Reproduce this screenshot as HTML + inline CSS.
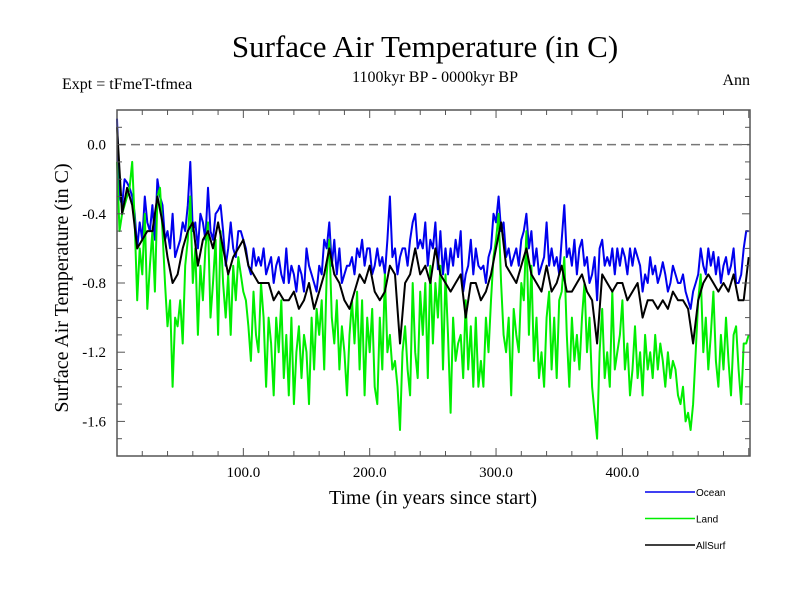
<!DOCTYPE html>
<html><head><meta charset="utf-8"><style>
body{margin:0;background:#fff}
svg text{font-family:"Liberation Serif",serif}
</style></head><body>
<svg id="c" width="800" height="600" viewBox="0 0 800 600" xmlns="http://www.w3.org/2000/svg">
<text x="425" y="57" font-size="31" text-anchor="middle">Surface Air Temperature (in C)</text>
<text x="62" y="89" font-size="16">Expt = tFmeT-tfmea</text>
<text x="435" y="82" font-size="16" text-anchor="middle">1100kyr BP - 0000kyr BP</text>
<text x="750" y="85" font-size="16" text-anchor="end">Ann</text>
<text x="0" y="0" font-size="20" text-anchor="middle" transform="translate(68,288) rotate(-90)">Surface Air Temperature (in C)</text>
<text x="433" y="504" font-size="20" text-anchor="middle">Time (in years since start)</text>
<g id="plot"></g>
<g id="axes"></g>
<g id="legend"></g>
</svg>
<script>
const oceanStep = 2;
const ocean = [0.15,-0.3,-0.35,-0.2,-0.22,-0.25,-0.3,-0.4,-0.6,-0.45,-0.55,-0.3,-0.45,-0.5,-0.35,-0.55,-0.2,-0.3,-0.35,-0.55,-0.5,-0.6,-0.4,-0.65,-0.6,-0.55,-0.45,-0.5,-0.35,-0.1,-0.5,-0.45,-0.6,-0.4,-0.45,-0.55,-0.25,-0.5,-0.55,-0.4,-0.38,-0.35,-0.5,-0.7,-0.6,-0.45,-0.6,-0.65,-0.5,-0.5,-0.55,-0.6,-0.7,-0.75,-0.6,-0.7,-0.65,-0.7,-0.6,-0.75,-0.7,-0.65,-0.8,-0.7,-0.65,-0.75,-0.8,-0.6,-0.8,-0.7,-0.75,-0.85,-0.7,-0.75,-0.85,-0.6,-0.7,-0.75,-0.8,-0.85,-0.7,-0.75,-0.55,-0.6,-0.45,-0.7,-0.55,-0.75,-0.6,-0.8,-0.75,-0.7,-0.7,-0.65,-0.75,-0.6,-0.65,-0.55,-0.7,-0.6,-0.6,-0.75,-0.7,-0.6,-0.7,-0.65,-0.75,-0.55,-0.3,-0.65,-0.6,-0.75,-0.65,-0.6,-0.6,-0.7,-0.55,-0.45,-0.4,-0.6,-0.55,-0.6,-0.45,-0.7,-0.55,-0.6,-0.45,-0.72,-0.5,-0.75,-0.6,-0.75,-0.6,-0.7,-0.55,-0.65,-0.5,-0.85,-0.75,-0.7,-0.55,-0.75,-0.6,-0.7,-0.72,-0.7,-0.8,-0.65,-0.6,-0.4,-0.45,-0.3,-0.5,-0.45,-0.65,-0.6,-0.7,-0.65,-0.6,-0.7,-0.55,-0.5,-0.4,-0.6,-0.5,-0.7,-0.6,-0.75,-0.7,-0.65,-0.45,-0.7,-0.6,-0.7,-0.65,-0.75,-0.55,-0.35,-0.65,-0.6,-0.7,-0.55,-0.75,-0.6,-0.55,-0.7,-0.65,-0.8,-0.75,-0.65,-0.9,-0.6,-0.55,-0.7,-0.65,-0.7,-0.6,-0.75,-0.6,-0.7,-0.6,-0.65,-0.75,-0.6,-0.7,-0.6,-0.65,-0.7,-0.85,-0.75,-0.8,-0.65,-0.75,-0.7,-0.8,-0.75,-0.68,-0.75,-0.85,-0.8,-0.7,-0.75,-0.8,-0.8,-0.75,-0.85,-0.9,-0.95,-0.85,-0.8,-0.75,-0.6,-0.7,-0.75,-0.6,-0.7,-0.62,-0.75,-0.65,-0.8,-0.7,-0.65,-0.75,-0.7,-0.6,-0.8,-0.8,-0.75,-0.6,-0.5,-0.5];
const landStep = 2;
const land = [-0.1,-0.5,-0.4,-0.35,-0.3,-0.25,-0.1,-0.45,-0.9,-0.6,-0.75,-0.4,-0.95,-0.7,-0.5,-0.85,-0.3,-0.25,-0.5,-0.8,-1.05,-0.9,-1.4,-1.0,-1.05,-0.9,-1.15,-0.7,-0.55,-0.3,-0.8,-0.6,-1.1,-0.7,-0.9,-0.6,-0.45,-1.0,-0.8,-0.55,-1.1,-0.5,-0.8,-1.0,-0.75,-1.1,-0.7,-0.9,-0.65,-0.75,-0.85,-0.9,-1.05,-1.25,-0.85,-1.1,-1.2,-0.8,-1.0,-1.4,-1.0,-1.15,-1.45,-1.0,-1.2,-0.9,-1.35,-1.1,-1.45,-1.0,-1.5,-1.2,-1.05,-1.35,-1.1,-1.2,-1.5,-1.0,-1.3,-0.95,-1.1,-0.9,-1.3,-0.75,-0.55,-1.0,-1.15,-0.9,-1.3,-1.05,-1.2,-1.45,-1.1,-0.9,-1.15,-0.85,-1.3,-0.9,-1.45,-1.0,-1.2,-0.95,-1.4,-1.5,-1.0,-1.3,-0.75,-1.2,-1.1,-1.3,-1.25,-1.4,-1.65,-1.2,-1.05,-1.3,-1.45,-0.8,-1.2,-1.35,-0.85,-1.1,-0.8,-1.35,-0.7,-1.15,-0.8,-1.0,-0.7,-1.3,-0.75,-1.1,-1.55,-1.0,-1.25,-1.15,-1.1,-1.35,-0.9,-1.3,-1.05,-1.4,-1.0,-1.4,-1.25,-1.4,-1.0,-1.2,-0.9,-0.65,-0.55,-0.4,-0.8,-1.1,-1.2,-1.0,-1.45,-0.95,-1.1,-1.2,-0.8,-0.9,-0.5,-1.1,-0.7,-1.25,-1.0,-1.35,-1.2,-1.4,-1.0,-0.85,-1.3,-1.0,-1.35,-0.9,-0.85,-0.65,-1.1,-1.4,-1.0,-1.25,-1.1,-1.3,-1.0,-0.8,-1.2,-1.0,-1.4,-1.55,-1.7,-1.2,-0.95,-1.35,-1.2,-1.4,-0.85,-1.3,-1.2,-1.1,-0.9,-1.3,-1.15,-1.45,-1.3,-1.05,-1.35,-1.2,-1.45,-1.1,-1.3,-1.2,-1.35,-1.1,-1.3,-1.15,-1.25,-1.4,-1.2,-1.35,-1.25,-1.3,-1.45,-1.5,-1.4,-1.6,-1.55,-1.65,-1.5,-1.2,-0.9,-0.75,-1.2,-1.0,-1.3,-1.1,-0.85,-1.25,-1.4,-1.1,-1.3,-1.0,-1.25,-1.45,-1.1,-1.05,-1.3,-1.5,-1.15,-1.15,-1.1];
const allStep = 4;
const allSurf = [0.1,-0.4,-0.25,-0.35,-0.6,-0.55,-0.5,-0.5,-0.3,-0.45,-0.65,-0.8,-0.75,-0.6,-0.5,-0.45,-0.7,-0.55,-0.5,-0.6,-0.45,-0.6,-0.75,-0.65,-0.6,-0.55,-0.7,-0.75,-0.8,-0.8,-0.8,-0.9,-0.85,-0.9,-0.9,-0.85,-0.95,-0.9,-0.8,-0.95,-0.85,-0.75,-0.6,-0.75,-0.8,-0.9,-0.95,-0.85,-0.75,-0.8,-0.7,-0.85,-0.9,-0.85,-0.7,-0.75,-1.15,-0.8,-0.75,-0.6,-0.75,-0.7,-0.8,-0.6,-0.75,-0.8,-0.85,-0.8,-0.75,-1.0,-0.8,-0.8,-0.9,-0.85,-0.75,-0.6,-0.45,-0.7,-0.75,-0.8,-0.7,-0.6,-0.75,-0.8,-0.85,-0.7,-0.85,-0.8,-0.7,-0.85,-0.85,-0.8,-0.75,-0.85,-0.9,-1.15,-0.75,-0.8,-0.85,-0.8,-0.8,-0.9,-0.85,-0.8,-1.0,-0.9,-0.9,-0.95,-0.9,-0.95,-0.85,-0.9,-0.9,-0.95,-1.15,-0.9,-0.8,-0.75,-0.8,-0.85,-0.8,-0.85,-0.75,-0.9,-0.9,-0.65];
const yTicks = [0.0,-0.4,-0.8,-1.2,-1.6];
const yTickLabels = ["0.0","-0.4","-0.8","-1.2","-1.6"];
const xTicks = [100,200,300,400];
const xTickLabels = ["100.0","200.0","300.0","400.0"];
const seriesNames = ["Ocean","Land","AllSurf"];

const L=117,R=750,T=110,B=456, X0=0,X1=501, Y0=-1.8,Y1=0.2;
const NS='http://www.w3.org/2000/svg';
const xs=v=>L+(v-X0)/(X1-X0)*(R-L);
const ys=v=>B-(v-Y0)/(Y1-Y0)*(B-T);
function mk(tag,attrs,parent){const e=document.createElementNS(NS,tag);for(const k in attrs)e.setAttribute(k,attrs[k]);parent.appendChild(e);return e;}
const plot=document.getElementById('plot'),axes=document.getElementById('axes'),legend=document.getElementById('legend');

let zl=mk('line',{x1:L,x2:R,y1:ys(0),y2:ys(0),stroke:'#777','stroke-width':1.5,'stroke-dasharray':'9,5'},plot);



function series(vals,step,color,name){
  const d=vals.map((v,i)=>(i?'L':'M')+xs(i*step).toFixed(1)+','+ys(v).toFixed(1)).join('');
  const p=mk('path',{d:d,fill:'none',stroke:color,'stroke-width':2,'stroke-linejoin':'round'},plot);
  
  
}
series(ocean,oceanStep,'#0000ee','ocean-line');
series(land,landStep,'#00ee00','land-line');
series(allSurf,allStep,'#000000','allsurf-line');

let fr=mk('rect',{x:L,y:T,width:R-L,height:B-T,fill:'none',stroke:'#555','stroke-width':1.5},axes);


for(let v=-1.8;v<=0.2001;v+=0.1){
  const y=ys(v);const major=Math.abs(Math.round(v*10)%4)===0;const len=major?8:5;
  const t1=mk('line',{x1:L,x2:L+len,y1:y,y2:y,stroke:'#555','stroke-width':1},axes);
  
  
  const t2=mk('line',{x1:R-len,x2:R,y1:y,y2:y,stroke:'#555','stroke-width':1},axes);
  
  
}
for(let v=20;v<X1;v+=20){
  const x=xs(v);const len=(v%100===0)?8:5;
  const t1=mk('line',{x1:x,x2:x,y1:B,y2:B-len,stroke:'#555','stroke-width':1},axes);
  
  
  const t2=mk('line',{x1:x,x2:x,y1:T,y2:T+len,stroke:'#555','stroke-width':1},axes);
  
  
}
yTicks.forEach((v,i)=>{
  const t=mk('text',{x:106,y:ys(v)+5,'font-size':15,'text-anchor':'end'},axes);t.textContent=yTickLabels[i];
  
  
});
xTicks.forEach((v,i)=>{
  const t=mk('text',{x:xs(v),y:477,'font-size':15,'text-anchor':'middle'},axes);t.textContent=xTickLabels[i];
  
  
});
const legColors=['#0000ee','#00ee00','#000000'];
seriesNames.forEach((n,i)=>{
  const y=492+i*26.5;
  const g=mk('g',{},legend);
  
  
  mk('line',{x1:645,x2:695,y1:y,y2:y,stroke:legColors[i],'stroke-width':1.5},g);
  const t=mk('text',{x:696,y:y+4,'font-size':10,style:'font-family:"Liberation Sans",sans-serif'},g);t.textContent=n;
});
</script>
</body></html>
